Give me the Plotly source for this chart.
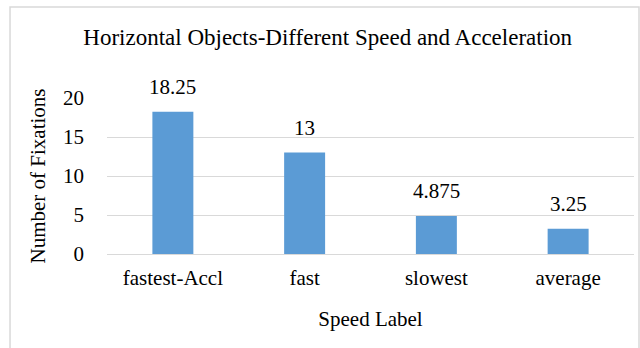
import plotly.graph_objects as go

categories = ["fastest-Accl", "fast", "slowest", "average"]
fixations = [18.25, 13, 4.875, 3.25]
value_labels = ["18.25", "13", "4.875", "3.25"]
y_ticks = [0, 5, 10, 15, 20]

FONT = "Liberation Serif"
GRID = "#d9d9d9"

fig = go.Figure(
    go.Bar(
        x=categories,
        y=fixations,
        marker=dict(color="#5b9bd5", line=dict(width=0)),
        hoverinfo="skip",
    )
)

# value labels above each bar
for cat, val, txt in zip(categories, fixations, value_labels):
    fig.add_annotation(
        x=cat, y=val, text=txt, showarrow=False,
        yanchor="bottom", yshift=11,
        font=dict(family=FONT, size=21, color="#000000"),
    )

# chart border
fig.add_shape(
    type="rect", xref="paper", yref="paper",
    x0=-0.184, x1=1.0095, y0=-1.0, y1=1.583,
    line=dict(color=GRID, width=1.5), fillcolor="rgba(0,0,0,0)",
    layer="below",
)

fig.update_layout(
    width=640, height=348,
    margin=dict(l=107, r=6, t=98, b=94),
    paper_bgcolor="white", plot_bgcolor="white",
    bargap=0.689,
    showlegend=False,
    font=dict(family=FONT, size=21, color="#000000"),
    title=dict(
        text="Horizontal Objects-Different Speed and Acceleration",
        x=0.512, xanchor="center", y=0.893, yanchor="middle",
        font=dict(family=FONT, size=23, color="#000000"),
    ),
    xaxis=dict(
        showgrid=False, showline=True, linecolor=GRID, linewidth=1,
        ticks="", ticklabelstandoff=5,
        tickfont=dict(family=FONT, size=21),
        title=dict(text="Speed Label", standoff=22, font=dict(family=FONT, size=21)),
    ),
    yaxis=dict(
        range=[0, 20], tickvals=y_ticks,
        showgrid=True, gridcolor=GRID, gridwidth=1,
        zeroline=False, showline=False,
        ticks="", ticklabelstandoff=22,
        tickfont=dict(family=FONT, size=21),
        title=dict(text="Number of Fixations", standoff=11, font=dict(family=FONT, size=21)),
    ),
)

fig.write_html("out.html")
